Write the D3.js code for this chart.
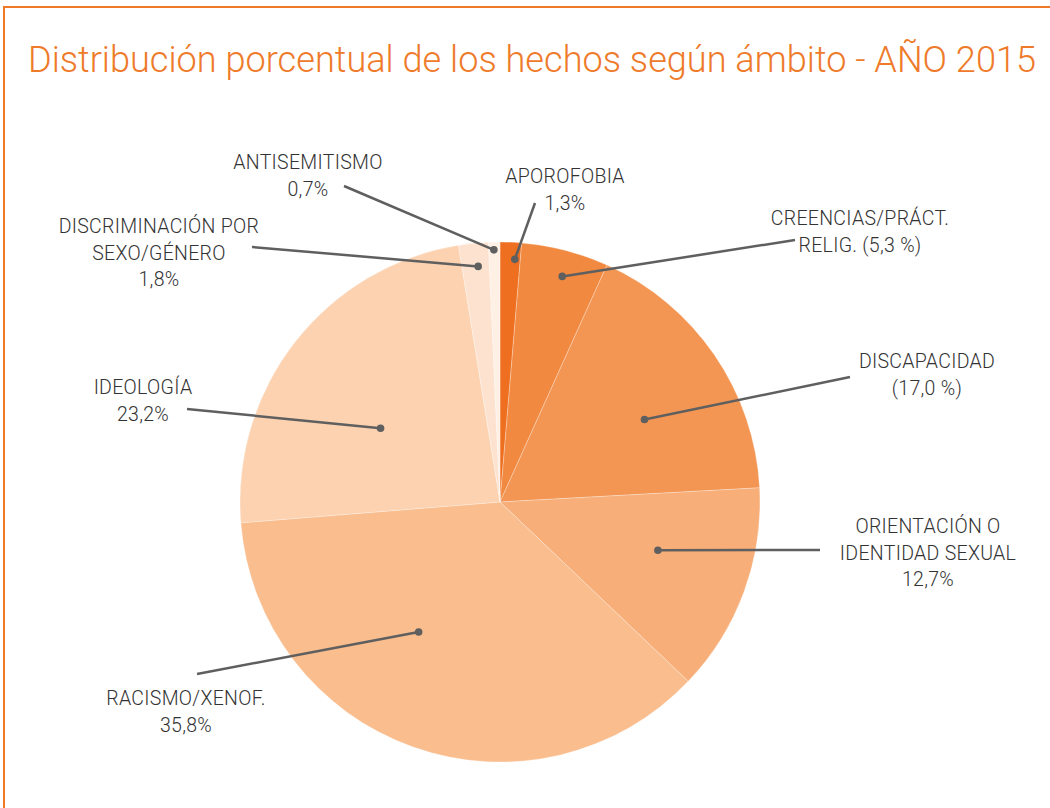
<!DOCTYPE html>
<html>
<head>
<meta charset="utf-8">
<script src="https://cdn.jsdelivr.net/npm/d3@7"></script>
<style>
  body { margin: 0; background: #fff; }
  svg { display: block; }
</style>
</head>
<body>
<svg id="chart" width="1050" height="808"></svg>
<script>
// data
var categories = ["APOROFOBIA", "CREENCIAS/PRÁCT. RELIG.", "DISCAPACIDAD", "ORIENTACIÓN O IDENTIDAD SEXUAL",
                  "RACISMO/XENOF.", "IDEOLOGÍA", "DISCRIMINACIÓN POR SEXO/GÉNERO", "ANTISEMITISMO"];
var values = [1.3, 5.3, 17.0, 12.7, 35.8, 23.2, 1.8, 0.7];
var labelLines = [
  ["APOROFOBIA", "1,3%"],
  ["CREENCIAS/PRÁCT.", "RELIG. (5,3 %)"],
  ["DISCAPACIDAD", "(17,0 %)"],
  ["ORIENTACIÓN O", "IDENTIDAD SEXUAL", "12,7%"],
  ["RACISMO/XENOF.", "35,8%"],
  ["IDEOLOGÍA", "23,2%"],
  ["DISCRIMINACIÓN POR", "SEXO/GÉNERO", "1,8%"],
  ["ANTISEMITISMO", "0,7%"]
];
var colors = ["#ee6f1f", "#f18a40", "#f39654", "#f7ae78", "#f9bd8e", "#fcd2b0", "#fde3cf", "#fef0e5"];

// label layout: text centre, first baseline, leader start, dot position inside slice (radius fraction, angle fraction)
var layout = [
  {x: 565, y: 183, lx: 535, ly: 203, r: 0.935, t: 0.73},
  {x: 860, y: 225, lx: 795, ly: 240, r: 0.90, t: 0.545},
  {x: 927, y: 368, lx: 850, ly: 377, r: 0.64, t: 0.575},
  {x: 928, y: 533, lx: 820, ly: 550, r: 0.635, t: 0.43},
  {x: 186, y: 705, lx: 197, ly: 674, r: 0.59, t: 0.595},
  {x: 143, y: 394, lx: 187, ly: 409, r: 0.54, t: 0.425},
  {x: 159, y: 233, lx: 252, ly: 247, r: 0.91, t: 0.59},
  {x: 308, y: 169, lx: 344, ly: 186, r: 0.97, t: 0.46}
];

var svg = d3.select("#chart");
var cx = 500, cy = 502, radius = 260;

// frame
svg.append("line").attr("x1", 3).attr("x2", 1050).attr("y1", 7).attr("y2", 7)
  .attr("stroke", "#ee7a2a").attr("stroke-width", 2);
svg.append("line").attr("x1", 4).attr("x2", 4).attr("y1", 6).attr("y2", 808)
  .attr("stroke", "#ee7a2a").attr("stroke-width", 2);

svg.append("text")
  .attr("x", 28).attr("y", 72)
  .attr("font-family", "Roboto, sans-serif")
  .attr("font-weight", 300)
  .attr("font-size", 36)
  .attr("fill", "#ee7a2a")
  .attr("textLength", 1008)
  .attr("lengthAdjust", "spacingAndGlyphs")
  .text("Distribución porcentual de los hechos según ámbito - AÑO 2015");

var pie = d3.pie().sort(null).value(function(d) { return d; });
var arcs = pie(values);
var arc = d3.arc().innerRadius(0).outerRadius(radius);

var g = svg.append("g").attr("transform", "translate(" + cx + "," + cy + ")");

g.selectAll("path.slice")
  .data(arcs)
  .enter().append("path")
  .attr("class", "slice")
  .attr("d", arc)
  .attr("fill", function(d, i) { return colors[i]; })
  .attr("stroke", "#fff")
  .attr("stroke-opacity", 0.35)
  .attr("stroke-width", 0.8);

// leader lines and dots
arcs.forEach(function(d, i) {
  var L = layout[i];
  var a = d.startAngle + (d.endAngle - d.startAngle) * L.t;
  var rr = radius * L.r;
  var px = cx + rr * Math.sin(a), py = cy - rr * Math.cos(a);
  svg.append("line")
    .attr("x1", L.lx).attr("y1", L.ly).attr("x2", px).attr("y2", py)
    .attr("stroke", "#5f5f5f").attr("stroke-width", 2.5);
  svg.append("circle").attr("cx", px).attr("cy", py).attr("r", 3.8).attr("fill", "#5f5f5f");

  var t = svg.append("text")
    .attr("text-anchor", "middle")
    .attr("font-family", "Roboto, sans-serif")
    .attr("font-weight", 300)
    .attr("font-size", 19.5)
    .attr("letter-spacing", 0.3)
    .attr("fill", "#333");
  labelLines[i].forEach(function(s, k) {
    t.append("tspan").attr("x", L.x).attr("y", L.y + k * 26.5).text(s);
  });
});
</script>
</body>
</html>
